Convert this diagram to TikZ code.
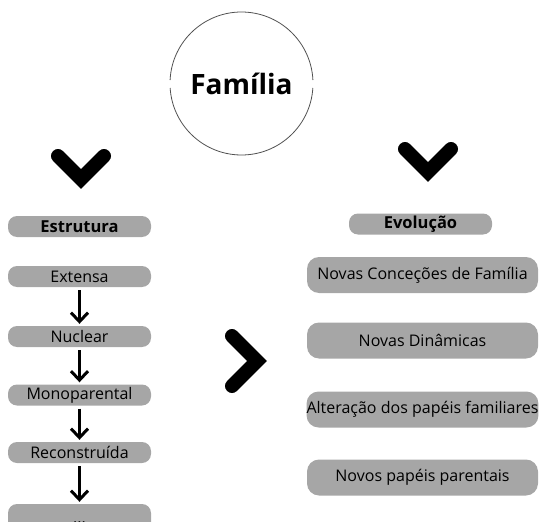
\documentclass[tikz,border=0pt]{standalone}
\usepackage{fontspec}
\setmainfont{Open Sans}
\usetikzlibrary{arrows.meta,positioning}
\definecolor{boxgray}{RGB}{166,166,166}
\definecolor{ringgray}{RGB}{80,80,80}

\begin{document}
\begin{tikzpicture}[x=1pt,y=-1pt,
  headbox/.style={rectangle, rounded corners=9pt, fill=boxgray, minimum width=143pt, minimum height=21pt, inner sep=0pt, font=\fontsize{16.5}{18}\selectfont\bfseries},
  stagebox/.style={rectangle, rounded corners=9pt, fill=boxgray, minimum width=143pt, minimum height=21pt, inner sep=0pt, font=\fontsize{16}{18}\selectfont},
  trendbox/.style={rectangle, rounded corners=12pt, fill=boxgray, minimum width=231pt, minimum height=36pt, inner sep=0pt, font=\fontsize{16}{18}\selectfont},
  downarrow/.style={-{Straight Barb[length=9pt,width=17pt,line width=3pt]}, line width=3pt, shorten <=3pt, shorten >=2pt},
  chevron/.style={line width=14pt, line cap=round, line join=miter}]
\useasboundingbox (0,0) rectangle (539,522);
\clip (0,0) rectangle (539,522);

% Central title
\node[circle, minimum size=143pt, inner sep=0pt, font=\fontsize{28}{30}\selectfont\bfseries] (familia) at (241.5,83.5) {Família};
\draw[ringgray, line width=0.8pt] (familia.center) ++(3.6:71.5) arc[start angle=3.6, end angle=176.4, radius=71.5];
\draw[ringgray, line width=0.8pt] (familia.center) ++(182.8:71.5) arc[start angle=182.8, end angle=357.2, radius=71.5];

% Chevrons
\draw[chevron] (58,156) -- (81,179) -- (104,156);
\draw[chevron] (405,149) -- (428,172) -- (451,149);
\draw[chevron] (232,336) -- (257,361) -- (232,386);

% Left column: structure
\node[headbox] (estrutura) at (79.5,226.5) {Estrutura};
\foreach \y/\name/\txt in {276.5/s1/Extensa, 336.5/s2/Nuclear, 395/s3/Monoparental, 452.5/s4/Reconstruída} {
    \node[stagebox] (\name) at (79.5,\y) {\txt};
}
\node[stagebox, minimum height=37pt] (s5) at (79.5,522.5) {.\kern0pt.\kern0pt.};
\foreach \a/\b in {s1/s2, s2/s3, s3/s4, s4/s5} {
    \draw[downarrow] (\a) -- (\b);
}

% Right column: evolution
\node[headbox] (evolucao) at (420.5,224) {Evolução};
\foreach \y/\name/\txt in {275/e1/Novas Conceções de Família, 340.5/e2/Novas Dinâmicas, 409.5/e3/Alteração dos papéis familiares, 477.5/e4/Novos papéis parentais} {
    \node[trendbox] (\name) at (422.5,\y) {\txt};
}

\end{tikzpicture}
\end{document}
